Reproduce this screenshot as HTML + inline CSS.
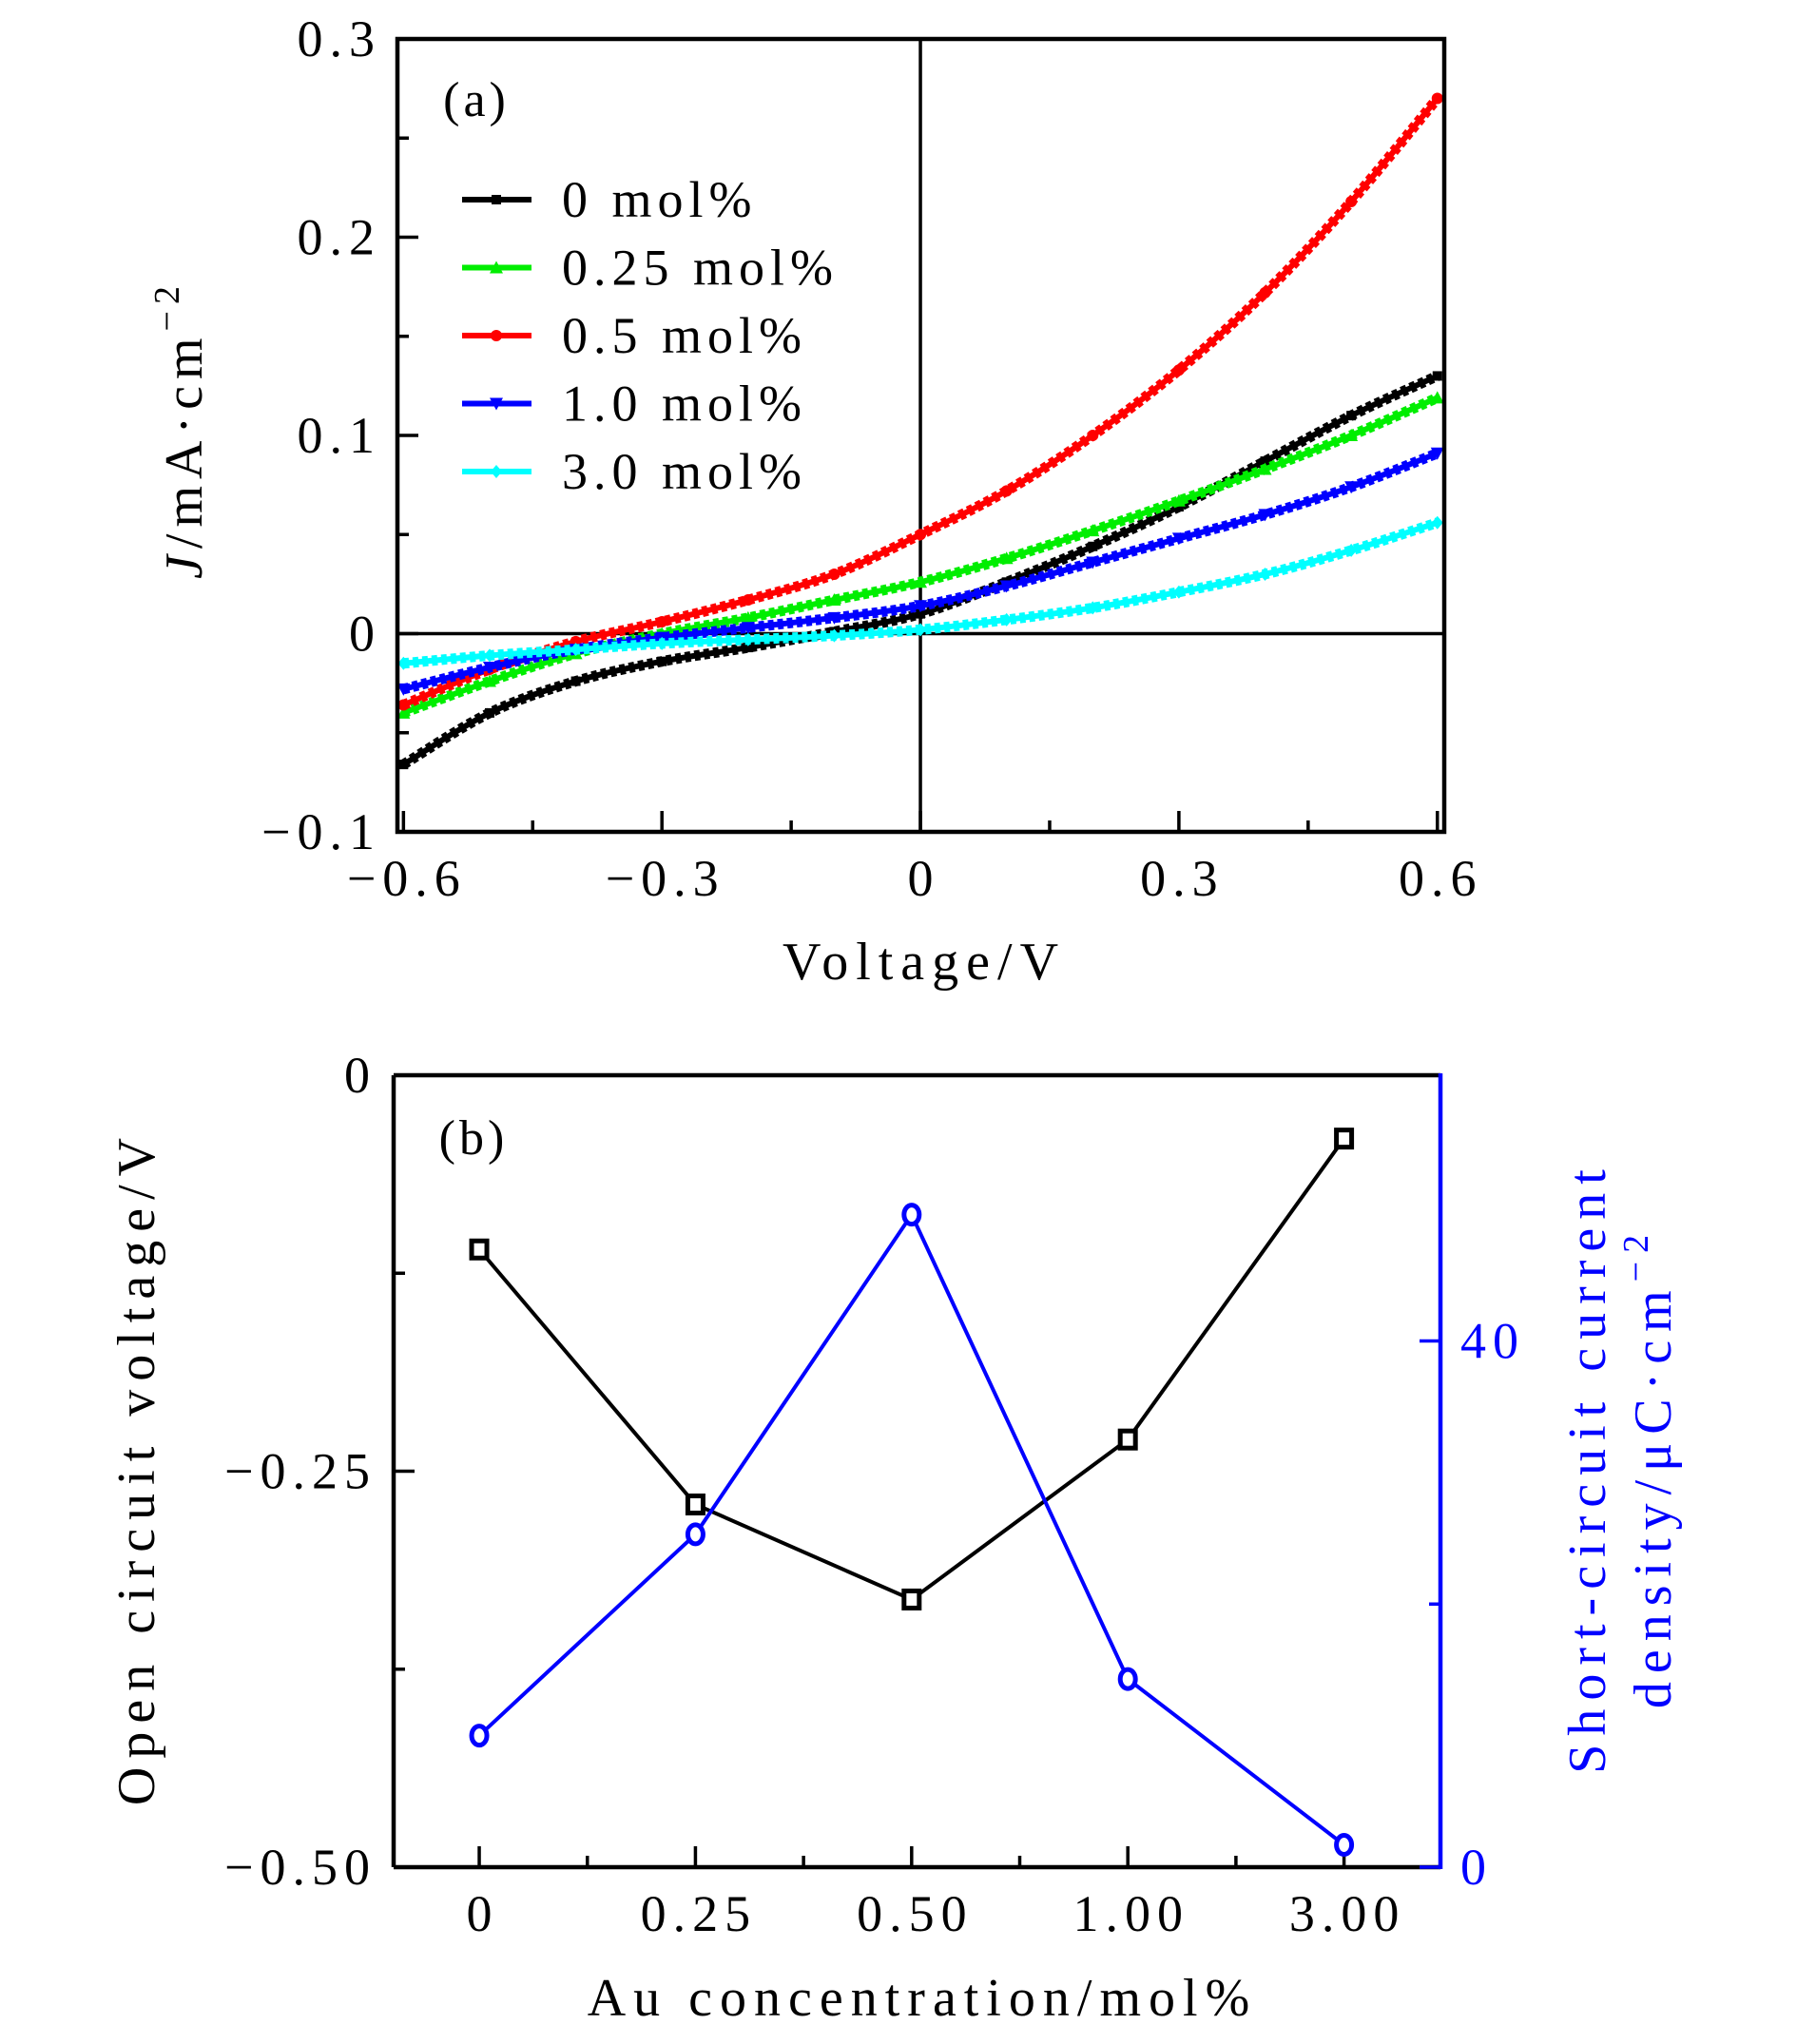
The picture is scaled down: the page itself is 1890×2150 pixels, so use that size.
<!DOCTYPE html>
<html><head><meta charset="utf-8"><style>
html,body{margin:0;padding:0;background:#fff;}
svg{display:block;font-family:"Liberation Serif",serif;}
</style></head><body>
<svg id="fig" width="1890" height="2150" viewBox="0 0 1890 2150" xmlns="http://www.w3.org/2000/svg"></svg>
<script>
// ---- Panel (a) data ----
const voltages = [-0.6,-0.5,-0.4,-0.3,-0.2,-0.1,0,0.1,0.2,0.3,0.4,0.5,0.6];
const seriesNames = ["0 mol%","0.25 mol%","0.5 mol%","1.0 mol%","3.0 mol%"];
const j0 = [-0.066,-0.040,-0.024,-0.014,-0.007,0.001,0.010,0.026,0.044,0.064,0.087,0.110,0.130];
const j025 = [-0.040,-0.024,-0.010,0.000,0.008,0.017,0.026,0.038,0.052,0.067,0.083,0.100,0.119];
const j05 = [-0.036,-0.018,-0.004,0.006,0.017,0.030,0.050,0.072,0.100,0.133,0.172,0.218,0.270];
const j10 = [-0.028,-0.017,-0.008,-0.002,0.003,0.008,0.014,0.024,0.036,0.048,0.060,0.074,0.091];
const j30 = [-0.015,-0.011,-0.008,-0.005,-0.003,-0.001,0.002,0.007,0.013,0.021,0.030,0.042,0.056];
const xTicksA = [-0.6,-0.3,0,0.3,0.6];
const xTickLabelsA = ["\u22120.6","\u22120.3","0","0.3","0.6"];
const yTicksA = [0.3,0.2,0.1,0,-0.1];
const yTickLabelsA = ["0.3","0.2","0.1","0","\u22120.1"];
// ---- Panel (b) data ----
const concentrations = ["0","0.25","0.50","1.00","3.00"];
const vocValues = [-0.110,-0.271,-0.331,-0.230,-0.040];
const jscValues = [10.0,25.3,49.6,14.3,1.7];
const yTicksBL = [0,-0.25,-0.5];
const yTickLabelsBL = ["0","\u22120.25","\u22120.50"];
const yTicksBR = [40,0];
const yTickLabelsBR = ["40","0"];

const NS="http://www.w3.org/2000/svg";
const svg=document.getElementById('fig');
const LS=6;
function mk(tag,attrs,parent){const e=document.createElementNS(NS,tag);for(const k in attrs)e.setAttribute(k,attrs[k]);(parent||svg).appendChild(e);return e;}
function txt(s,x,y,size,anchor,fill,parent,ls){
  const l=(ls===undefined)?LS:ls;
  let xx=x; if(anchor==='end')xx=x+l; else if(anchor==='middle'||!anchor)xx=x+l/2;
  const t=mk('text',{x:xx,y:y,'font-size':size,'text-anchor':anchor||'middle',fill:fill||'#000','letter-spacing':l},parent);t.textContent=s;return t;}

// ===== Panel A =====
const A={l:418,r:1519,t:41,b:875,xmin:-0.607,xmax:0.608,ymin:-0.1,ymax:0.3};
const xA=v=>A.l+(v-A.xmin)/(A.xmax-A.xmin)*(A.r-A.l);
const yA=v=>A.b-(v-A.ymin)/(A.ymax-A.ymin)*(A.b-A.t);
const gA=mk('g',{});


const zl=mk('g',{},gA);


mk('line',{x1:A.l,x2:A.r,y1:yA(0),y2:yA(0),stroke:'#000','stroke-width':3.5},zl);
mk('line',{x1:xA(0),x2:xA(0),y1:A.t,y2:A.b,stroke:'#000','stroke-width':3.5},zl);
const colors=['#000','#00ee00','#ff0000','#0000ff','#00ffff'];
const dataA=[j0,j025,j05,j10,j30];
const markers=['sq','tri','circ','tri-down','diam'];
function marker(type,x,y,c,g){
  if(type==='sq')return mk('rect',{x:x-5,y:y-5,width:10,height:10,fill:c},g);
  if(type==='circ')return mk('circle',{cx:x,cy:y,r:6,fill:c},g);
  if(type==='tri')return mk('polygon',{points:`${x},${y-7} ${x-7},${y+6} ${x+7},${y+6}`,fill:c},g);
  if(type==='tri-down')return mk('polygon',{points:`${x},${y+7} ${x-7},${y-6} ${x+7},${y-6}`,fill:c},g);
  return mk('polygon',{points:`${x},${y-7} ${x-6},${y} ${x},${y+7} ${x+6},${y}`,fill:c},g);
}
function smoothPath(pts){
  let d=`M${pts[0][0]},${pts[0][1]}`;
  for(let i=0;i<pts.length-1;i++){
    const p0=pts[Math.max(0,i-1)],p1=pts[i],p2=pts[i+1],p3=pts[Math.min(pts.length-1,i+2)];
    const c1=[p1[0]+(p2[0]-p0[0])/6,p1[1]+(p2[1]-p0[1])/6];
    const c2=[p2[0]-(p3[0]-p1[0])/6,p2[1]-(p3[1]-p1[1])/6];
    d+=` C${c1[0]},${c1[1]} ${c2[0]},${c2[1]} ${p2[0]},${p2[1]}`;
  }
  return d;
}
dataA.forEach((arr,si)=>{
  const g=mk('g',{},gA);
  
  
  const pts=voltages.map((v,i)=>[xA(v),yA(arr[i])]);
  mk('path',{d:smoothPath(pts),fill:'none',stroke:colors[si],'stroke-width':11,'stroke-dasharray':'6 4'},g);
  mk('path',{d:smoothPath(pts),fill:'none',stroke:colors[si],'stroke-width':6},g);
  pts.forEach(p=>{const m=marker(markers[si],p[0],p[1],colors[si],g);
    
    });
});
const frA=mk('rect',{x:A.l,y:A.t,width:A.r-A.l,height:A.b-A.t,fill:'none',stroke:'#000','stroke-width':4.5},gA);


xTicksA.forEach((v,i)=>{
  mk('line',{x1:xA(v),x2:xA(v),y1:A.b,y2:A.b-22,stroke:'#000','stroke-width':3.5},gA);
  const t=txt(xTickLabelsA[i],xA(v),942,54,'middle','#000',gA,7);
  
  
});
[-0.45,-0.15,0.15,0.45].forEach(v=>mk('line',{x1:xA(v),x2:xA(v),y1:A.b,y2:A.b-12,stroke:'#000','stroke-width':3.5},gA));
yTicksA.forEach((v,i)=>{
  mk('line',{x1:A.l,x2:A.l+22,y1:yA(v),y2:yA(v),stroke:'#000','stroke-width':3.5},gA);
  const t=txt(yTickLabelsA[i],394,yA(v)+18,54,'end','#000',gA,7);
  
  
});
[0.25,0.15,0.05,-0.05].forEach(v=>mk('line',{x1:A.l,x2:A.l+12,y1:yA(v),y2:yA(v),stroke:'#000','stroke-width':3.5},gA));
const la=txt('(a)',499,122,52,'middle','#000',gA,4);


const leg=mk('g',{},gA);


seriesNames.forEach((n,i)=>{
  const y=210+i*71.5;
  const e=mk('g',{},leg);
  
  
  mk('line',{x1:486,x2:559,y1:y,y2:y,stroke:colors[i],'stroke-width':6},e);
  marker(markers[i],522,y,colors[i],e);
  txt(n,591,y+18,54,'start','#000',e,6);
});
const ytA=txt('',0,0,56,'middle','#000',gA,7);
ytA.setAttribute('transform','translate(212,455) rotate(-90)');
ytA.innerHTML='<tspan font-style="italic">J</tspan>/mA·cm<tspan font-size="38" dy="-24">\u22122</tspan>';


const xtA=txt('Voltage/V',968,1030,56,'middle','#000',gA,8);



// ===== Panel B =====
const B={l:414,r:1515,t:1131,b:1964,imin:-0.396,imax:4.446,vmin:-0.5,vmax:0,jmin:0,jmax:60.2};
const xB=i=>B.l+(i-B.imin)/(B.imax-B.imin)*(B.r-B.l);
const yBL=v=>B.b-(v-B.vmin)/(B.vmax-B.vmin)*(B.b-B.t);
const yBR=v=>B.b-(v-B.jmin)/(B.jmax-B.jmin)*(B.b-B.t);
const gB=mk('g',{});


mk('line',{x1:B.l,x2:B.r,y1:B.t,y2:B.t,stroke:'#000','stroke-width':4.5},gB);
mk('line',{x1:B.l,x2:B.r,y1:B.b,y2:B.b,stroke:'#000','stroke-width':4.5},gB);
mk('line',{x1:B.l,x2:B.l,y1:B.t,y2:B.b,stroke:'#000','stroke-width':4.5},gB);
const ra=mk('line',{x1:B.r,x2:B.r,y1:B.t-2,y2:B.b+2,stroke:'#0000ff','stroke-width':4.5},gB);


concentrations.forEach((c,i)=>{
  mk('line',{x1:xB(i),x2:xB(i),y1:B.b,y2:B.b-22,stroke:'#000','stroke-width':3.5},gB);
  if(i<4)mk('line',{x1:xB(i+0.5),x2:xB(i+0.5),y1:B.b,y2:B.b-12,stroke:'#000','stroke-width':3.5},gB);
  const t=txt(c,xB(i),2031,54,'middle','#000',gB,7);
  
  
});
yTicksBL.forEach((v,i)=>{
  mk('line',{x1:B.l,x2:B.l+22,y1:yBL(v),y2:yBL(v),stroke:'#000','stroke-width':3.5},gB);
  const t=txt(yTickLabelsBL[i],389,yBL(v)+18,54,'end','#000',gB,7);
  
  
});
[-0.125,-0.375].forEach(v=>mk('line',{x1:B.l,x2:B.l+12,y1:yBL(v),y2:yBL(v),stroke:'#000','stroke-width':3.5},gB));
yTicksBR.forEach((v,i)=>{
  mk('line',{x1:B.r,x2:B.r-22,y1:yBR(v),y2:yBR(v),stroke:'#0000ff','stroke-width':3.5},gB);
  const t=txt(yTickLabelsBR[i],1536,yBR(v)+18,54,'start','#0000ff',gB,7);
  
  
});
mk('line',{x1:B.r,x2:B.r-12,y1:yBR(20),y2:yBR(20),stroke:'#0000ff','stroke-width':3.5},gB);
const gv=mk('g',{},gB);


mk('polyline',{points:vocValues.map((v,i)=>`${xB(i)},${yBL(v)}`).join(' '),fill:'none',stroke:'#000','stroke-width':4},gv);
vocValues.forEach((v,i)=>{
  const m=mk('rect',{x:xB(i)-8,y:yBL(v)-9,width:16,height:18,fill:'#fff',stroke:'#000','stroke-width':5},gv);
  
  
});
const gj=mk('g',{},gB);


mk('polyline',{points:jscValues.map((v,i)=>`${xB(i)},${yBR(v)}`).join(' '),fill:'none',stroke:'#0000ff','stroke-width':4},gj);
jscValues.forEach((v,i)=>{
  const m=mk('ellipse',{cx:xB(i),cy:yBR(v),rx:8,ry:10,fill:'#fff',stroke:'#0000ff','stroke-width':5},gj);
  
  
});
const lb=txt('(b)',496,1214,52,'middle','#000',gB,4);


const ytBL=txt('Open circuit voltage/V',0,0,56,'middle','#000',gB,9);
ytBL.setAttribute('transform','translate(162,1548) rotate(-90)');


const ytBR1=txt('Short-circuit current',0,0,56,'middle','#0000ff',gB,9);
ytBR1.setAttribute('transform','translate(1688,1548) rotate(-90)');


const ytBR2=txt('',0,0,56,'middle','#0000ff',gB,9);
ytBR2.setAttribute('transform','translate(1757,1548) rotate(-90)');
ytBR2.innerHTML='density/μC·cm<tspan font-size="38" dy="-24">\u22122</tspan>';


const xtB=txt('Au concentration/mol%',966,2120,56,'middle','#000',gB,8);


</script>
</body></html>
